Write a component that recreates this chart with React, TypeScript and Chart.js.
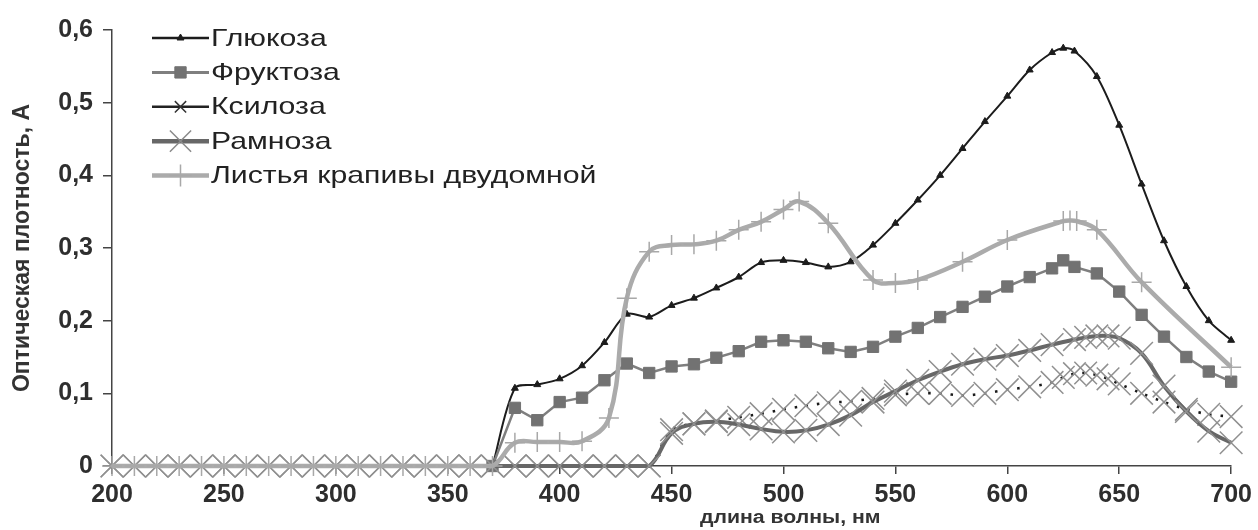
import React, { useEffect, useRef } from 'react';
import { Chart, registerables } from 'chart.js';
import { drawPoint } from 'chart.js/helpers';

Chart.register(...registerables);

// ---------- data ----------
const seriesNames = ['Глюкоза', 'Фруктоза', 'Ксилоза', 'Рамноза', 'Листья крапивы двудомной'];
const yTickLabels = ['0', '0,1', '0,2', '0,3', '0,4', '0,5', '0,6'];
const xAxisTitle = 'длина волны, нм';
const yAxisTitle = 'Оптическая плотность, А';

const glucoseX = [370, 380, 390, 400, 410, 420, 430, 440, 450, 460, 470, 480, 490, 500, 510, 520, 530, 540, 550, 560, 570, 580, 590, 600, 610, 620, 625, 630, 640, 650, 660, 670, 680, 690, 700];
const glucoseY = [0, 0.107, 0.112, 0.12, 0.138, 0.17, 0.209, 0.205, 0.221, 0.231, 0.245, 0.26, 0.28, 0.283, 0.28, 0.274, 0.281, 0.304, 0.334, 0.366, 0.4, 0.437, 0.474, 0.509, 0.545, 0.569, 0.575, 0.571, 0.536, 0.469, 0.388, 0.31, 0.247, 0.2, 0.173];

const fructoseX = [370, 380, 390, 400, 410, 420, 430, 440, 450, 460, 470, 480, 490, 500, 510, 520, 530, 540, 550, 560, 570, 580, 590, 600, 610, 620, 625, 630, 640, 650, 660, 670, 680, 690, 700];
const fructoseY = [0, 0.08, 0.063, 0.088, 0.094, 0.118, 0.141, 0.128, 0.137, 0.14, 0.149, 0.158, 0.171, 0.173, 0.171, 0.162, 0.157, 0.164, 0.178, 0.19, 0.205, 0.219, 0.233, 0.247, 0.26, 0.272, 0.283, 0.274, 0.265, 0.24, 0.208, 0.178, 0.15, 0.13, 0.116];

const xyloseX = [200, 210, 220, 230, 240, 250, 260, 270, 280, 290, 300, 310, 320, 330, 340, 350, 360, 370, 380, 390, 400, 410, 420, 430, 440, 450, 460, 470, 480, 490, 500, 510, 520, 530, 540, 550, 560, 570, 580, 590, 600, 610, 620, 625, 630, 635, 640, 645, 650, 660, 670, 680, 690, 700];
const xyloseY = [0, 0, 0, 0, 0, 0, 0, 0, 0, 0, 0, 0, 0, 0, 0, 0, 0, 0, 0, 0, 0, 0, 0, 0, 0, 0.05, 0.058, 0.062, 0.067, 0.072, 0.078, 0.083, 0.087, 0.089, 0.093, 0.098, 0.1, 0.1, 0.097, 0.1, 0.105, 0.109, 0.115, 0.122, 0.127, 0.128, 0.125, 0.12, 0.113, 0.1, 0.088, 0.078, 0.071, 0.068];

const rhamnoseX = [200, 210, 220, 230, 240, 250, 260, 270, 280, 290, 300, 310, 320, 330, 340, 350, 360, 370, 380, 390, 400, 410, 420, 430, 440, 450, 460, 470, 480, 490, 500, 510, 520, 530, 540, 550, 560, 570, 580, 590, 600, 610, 620, 630, 635, 640, 645, 650, 660, 670, 680, 690, 700];
const rhamnoseY = [0, 0, 0, 0, 0, 0, 0, 0, 0, 0, 0, 0, 0, 0, 0, 0, 0, 0, 0, 0, 0, 0, 0, 0, 0, 0.045, 0.058, 0.061, 0.057, 0.051, 0.047, 0.049, 0.057, 0.07, 0.088, 0.103, 0.118, 0.13, 0.14, 0.147, 0.152, 0.159, 0.167, 0.174, 0.177, 0.179, 0.179, 0.176, 0.155, 0.11, 0.075, 0.048, 0.032];

const nettleX = [200, 210, 220, 230, 240, 250, 260, 270, 280, 290, 300, 310, 320, 330, 340, 350, 360, 370, 380, 390, 400, 410, 422, 430, 440, 450, 460, 470, 480, 490, 500, 507, 520, 540, 550, 560, 580, 600, 625, 628, 631, 640, 660, 700];
const nettleY = [0, 0, 0, 0, 0, 0, 0, 0, 0, 0, 0, 0, 0, 0, 0, 0, 0, 0, 0.032, 0.033, 0.033, 0.034, 0.066, 0.231, 0.295, 0.304, 0.305, 0.31, 0.325, 0.336, 0.353, 0.364, 0.334, 0.256, 0.252, 0.256, 0.281, 0.311, 0.337, 0.338, 0.337, 0.325, 0.253, 0.136];

const toPoints = (xs: number[], ys: number[]) => xs.map((x, i) => ({ x, y: ys[i] }));

// ---------- plugins ----------
const legendPlugin = {
  id: 'inlineLegend',
  afterDraw(chart: any) {
    const { ctx, chartArea } = chart;
    const x0 = chartArea.left + 40;
    const lineLen = 57;
    const y0 = chartArea.top + 8;
    const rowH = 34.4;
    chart.data.datasets.forEach((ds: any, i: number) => {
      const y = y0 + i * rowH;
      ctx.save();
      ctx.setLineDash([]);
      ctx.strokeStyle = ds.legendLineColor;
      ctx.lineWidth = ds.legendLineWidth;
      ctx.beginPath();
      ctx.moveTo(x0, y);
      ctx.lineTo(x0 + lineLen, y);
      ctx.stroke();
      ctx.strokeStyle = ds.legendPointColor;
      ctx.fillStyle = ds.legendPointColor;
      ctx.lineWidth = ds.pointBorderWidth;
      drawPoint(ctx, { pointStyle: ds.pointStyle, radius: ds.legendPointRadius, borderWidth: ds.pointBorderWidth, rotation: 0 } as any, x0 + lineLen / 2, y);
      ctx.fillStyle = '#222';
      ctx.font = '24px "Liberation Sans", Arial, sans-serif';
      ctx.textBaseline = 'middle';
      ctx.textAlign = 'left';
      ctx.translate(x0 + lineLen + 2, y + 1);
      ctx.scale(1.26, 1);
      ctx.fillText(ds.label, 0, 0);
      ctx.restore();
    });
  },
};

const xTitlePlugin = {
  id: 'xTitle',
  afterDraw(chart: any) {
    const { ctx, chartArea } = chart;
    ctx.save();
    ctx.fillStyle = '#333';
    ctx.font = 'bold 18px "Liberation Sans", Arial, sans-serif';
    ctx.textAlign = 'center';
    ctx.textBaseline = 'middle';
    ctx.translate(chartArea.left + (chartArea.right - chartArea.left) * 0.606, 518);
    ctx.scale(1.18, 1);
    ctx.fillText(xAxisTitle, 0, 0);
    ctx.restore();
  },
};

export default function App() {
  const ref = useRef<HTMLCanvasElement | null>(null);

  useEffect(() => {
    if (!ref.current) return;
    const common = { clip: false as const };
    const chart = new Chart(ref.current, {
      type: 'line',
      data: {
        datasets: [
          {
            ...common,
            label: seriesNames[0],
            data: toPoints(glucoseX, glucoseY),
            borderColor: '#1c1c1c',
            borderWidth: 2,
            tension: 0.3,
            pointStyle: 'triangle',
            pointRadius: 4,
            pointBackgroundColor: '#1c1c1c',
            pointBorderColor: '#1c1c1c',
            pointBorderWidth: 1,
            order: 5,
            legendLineColor: '#1c1c1c',
            legendLineWidth: 2.5,
            legendPointRadius: 4,
            legendPointColor: '#1c1c1c',
          } as any,
          {
            ...common,
            label: seriesNames[1],
            data: toPoints(fructoseX, fructoseY),
            borderColor: '#7f7f7f',
            borderWidth: 2.5,
            tension: 0,
            pointStyle: 'rect',
            pointRadius: 8,
            pointBackgroundColor: '#727272',
            pointBorderColor: '#727272',
            pointBorderWidth: 1,
            order: 4,
            legendLineColor: '#7f7f7f',
            legendLineWidth: 3,
            legendPointRadius: 8,
            legendPointColor: '#727272',
          } as any,
          {
            ...common,
            label: seriesNames[2],
            data: toPoints(xyloseX, xyloseY),
            borderColor: '#1a1a1a',
            borderWidth: 2.6,
            borderDash: [2.4, 8.8],
            tension: 0.3,
            pointStyle: 'crossRot',
            pointRadius: 16,
            pointBackgroundColor: '#909090',
            pointBorderColor: '#909090',
            pointBorderWidth: 1.5,
            order: 3,
            legendLineColor: '#222',
            legendLineWidth: 2.5,
            legendPointRadius: 8,
            legendPointColor: '#333',
          } as any,
          {
            ...common,
            label: seriesNames[3],
            data: toPoints(rhamnoseX, rhamnoseY),
            borderColor: '#676767',
            borderWidth: 4,
            tension: 0.4,
            pointStyle: 'crossRot',
            pointRadius: 16,
            pointBackgroundColor: '#909090',
            pointBorderColor: '#909090',
            pointBorderWidth: 1.5,
            order: 2,
            legendLineColor: '#676767',
            legendLineWidth: 4.5,
            legendPointRadius: 15,
            legendPointColor: '#8a8a8a',
          } as any,
          {
            ...common,
            label: seriesNames[4],
            data: toPoints(nettleX, nettleY),
            borderColor: '#ababab',
            borderWidth: 4.5,
            tension: 0.4,
            pointStyle: 'cross',
            pointRadius: 10,
            pointBackgroundColor: '#a8a8a8',
            pointBorderColor: '#a8a8a8',
            pointBorderWidth: 1.5,
            order: 1,
            legendLineColor: '#ababab',
            legendLineWidth: 4.5,
            legendPointRadius: 11,
            legendPointColor: '#a8a8a8',
          } as any,
        ],
      },
      options: {
        animation: false,
        responsive: false,
        maintainAspectRatio: false,
        devicePixelRatio: 1,
        layout: { padding: { top: 30, right: 26, bottom: 0, left: 0 } },
        plugins: {
          legend: { display: false },
          tooltip: { enabled: false },
        },
        scales: {
          x: {
            type: 'linear',
            min: 200,
            max: 700,
            afterFit: (scale: any) => {
              scale.height = 64;
            },
            ticks: {
              stepSize: 50,
              autoSkip: false,
              maxRotation: 0,
              padding: 6,
              color: '#2e2e2e',
              font: { family: '"Liberation Sans Narrow", "Liberation Sans", Arial, sans-serif', size: 25, weight: 'bold' },
            },
            grid: { drawOnChartArea: false, drawTicks: true, tickLength: 8, color: '#444', lineWidth: 1.5 },
            border: { display: true, color: '#444', width: 1.5 },
          },
          y: {
            type: 'linear',
            min: 0,
            max: 0.6,
            afterFit: (scale: any) => {
              scale.width = 112;
            },
            ticks: {
              stepSize: 0.1,
              padding: 10,
              color: '#2e2e2e',
              font: { family: '"Liberation Sans Narrow", "Liberation Sans", Arial, sans-serif', size: 25, weight: 'bold' },
              callback: (v: any) => yTickLabels[Math.round(Number(v) * 10)] ?? '',
            },
            grid: { drawOnChartArea: false, drawTicks: true, tickLength: 9, color: '#444', lineWidth: 1.5 },
            border: { display: true, color: '#444', width: 1.5 },
            title: {
              display: true,
              text: yAxisTitle,
              color: '#333',
              font: { family: '"Liberation Sans", Arial, sans-serif', size: 23, weight: 'bold' },
              padding: { top: 9, bottom: 0 },
            },
          },
        },
      } as any,
      plugins: [legendPlugin, xTitlePlugin],
    });
    return () => chart.destroy();
  }, []);

  return (
    <div style={{ position: 'absolute', left: 0, top: 0, width: 1258, height: 530, background: '#fff' }}>
      <canvas ref={ref} width={1258} height={530} style={{ display: 'block' }} />
    </div>
  );
}
